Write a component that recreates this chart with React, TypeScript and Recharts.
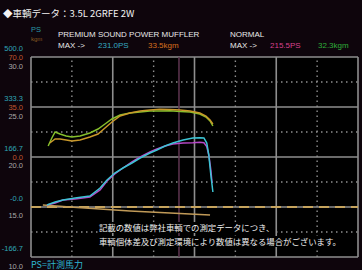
import { LineChart, Line, XAxis, YAxis, ReferenceLine } from "recharts";

// rpm grid (hidden axis), solid every 2000, dotted between
const rpmGrid = [0, 1000, 2000, 3000, 4000, 5000, 6000, 7000, 8000];
const psGrid = [-166.7, -83.3, 0, 83.3, 166.7, 250, 333.3, 416.7, 500];

const psTicks = [500, 333.3, 166.7, 0, -166.7];
const psTickLabels = ["500.0", "333.3", "166.7", "-0.0", "-166.7"];
const kgmTickLabels = ["70.0", "35.0", "0.0"];
const afrTickLabels = ["30.0", "25.0", "20.0", "15.0", "10.0"];

// PREMIUM SOUND POWER MUFFLER
const premiumPsRpm = [390, 590, 780, 1080, 1440, 1690, 1860, 2050, 2250, 2470, 2670, 2910, 3080, 3280, 3470, 3720, 3960, 4130, 4230, 4300, 4350, 4400, 4450];
const premiumPs = [6.7, 16.7, 23.3, 30, 36.7, 63.3, 90, 113.3, 130, 146.7, 163.3, 180, 190, 203.3, 213.3, 223.3, 230, 231.0, 230, 213.3, 173.3, 106.7, 50];
const premiumTqRpm = [460, 590, 710, 860, 1000, 1200, 1440, 1640, 1810, 1980, 2180, 2420, 2670, 2910, 3150, 3400, 3650, 3890, 4130, 4280, 4380, 4450];
const premiumTq = [9.8, 12.6, 12.6, 11.9, 11.2, 11.9, 14.0, 16.1, 20.3, 24.5, 28.7, 30.8, 32.2, 32.9, 33.5, 33.2, 32.9, 32.2, 30.8, 28.7, 25.9, 23.1];

// NORMAL
const normalPsRpm = [390, 590, 780, 1080, 1440, 1690, 1860, 2050, 2250, 2470, 2670, 2910, 3080, 3280, 3470, 3720, 3960, 4130, 4230, 4300, 4350, 4400, 4430];
const normalPs = [6.7, 13.3, 23.3, 26.7, 33.3, 56.7, 86.7, 110, 130, 150, 166.7, 183.3, 193.3, 203.3, 210, 213.3, 214, 215.5, 214, 201.7, 173.3, 123.3, 80];
const normalTqRpm = [420, 510, 590, 710, 860, 1000, 1200, 1440, 1640, 1810, 1980, 2180, 2420, 2670, 2910, 3150, 3400, 3650, 3890, 4130, 4280, 4380, 4450];
const normalTq = [7.7, 13.3, 17.5, 16.1, 14.7, 14.0, 14.7, 16.8, 19.6, 23.1, 26.6, 29.4, 30.8, 31.5, 32.2, 32.2, 32.3, 31.9, 31.5, 30.1, 28.0, 25.2, 21.7];

const afrRpm = [290, 950, 2420, 4380];
const afr = [15.2, 15.0, 14.6, 14.2];

const markerRpm = 3620;

const zip = (xs: number[], ys: number[]) => xs.map((rpm, i) => ({ rpm, v: ys[i] }));

const FONT = "'Liberation Sans', 'Noto Sans CJK JP', sans-serif";
const JP = "'Noto Sans CJK JP', sans-serif";

// three stacked labels per solid grid line: PS / kgm / scale
function StackTick(props: any) {
  const { y, index } = props;
  const tx = 23;
  return (
    <g fontFamily={FONT} fontSize={7.5} textAnchor="end">
      <text x={tx} y={y - 9} dy={3} fill="#2fa6b8">{psTickLabels[index]}</text>
      {kgmTickLabels[index] && (
        <text x={tx} y={y} dy={3} fill="#c0552e">{kgmTickLabels[index]}</text>
      )}
      <text x={tx} y={y + 8.5} dy={3} fill="#a8a8a8">{afrTickLabels[index]}</text>
    </g>
  );
}

const abs = (left: number, top: number, extra: any = {}) => ({
  position: "absolute" as const,
  left,
  top,
  whiteSpace: "nowrap" as const,
  lineHeight: 1,
  ...extra,
});

export default function App() {
  return (
    <div style={{ position: "absolute", left: 0, top: 0, width: 362, height: 270, background: "#0e050c", overflow: "hidden", fontFamily: FONT }}>
      <div style={{ position: "absolute", left: 31, top: 57, width: 327, height: 200, background: "#000" }} />
      <LineChart width={362} height={270} margin={{ top: 57, right: 4, bottom: 13, left: 0 }}>
        <XAxis dataKey="rpm" type="number" domain={[0, 8000]} hide allowDuplicatedCategory={false} />
        <YAxis
          yAxisId="ps"
          type="number"
          domain={[-166.7, 500]}
          ticks={psTicks}
          width={31}
          axisLine={false}
          tickLine={false}
          interval={0}
          tick={<StackTick />}
          allowDataOverflow
        />
        <YAxis yAxisId="kgm" type="number" domain={[-70, 70]} hide allowDataOverflow />
        <YAxis yAxisId="afr" type="number" domain={[10, 30]} hide allowDataOverflow />

        {psGrid.map((v, i) => (
          <ReferenceLine key={"h" + i} yAxisId="ps" y={v} stroke="#8e8e8e" strokeWidth={i % 2 === 0 ? 1.6 : 1.4} strokeDasharray={i % 2 === 0 ? undefined : "1.5 3.5"} />
        ))}
        {rpmGrid.map((v, i) => (
          <ReferenceLine key={"v" + i} yAxisId="ps" x={v} stroke="#8e8e8e" strokeWidth={i % 2 === 0 ? 1.6 : 1.4} strokeDasharray={i % 2 === 0 ? undefined : "1.5 3.5"} />
        ))}
        <ReferenceLine yAxisId="ps" x={markerRpm} stroke="#5e3550" strokeWidth={1.5} />
        <ReferenceLine yAxisId="ps" y={0} stroke="#c6a45e" strokeWidth={2} strokeDasharray="10 6" />

        <Line yAxisId="afr" data={zip(afrRpm, afr)} dataKey="v" stroke="#c09a58" strokeWidth={1.5} dot={false} isAnimationActive={false} />
        <Line yAxisId="kgm" data={zip(normalTqRpm, normalTq)} dataKey="v" stroke="#86bf2c" strokeWidth={1.5} dot={false} isAnimationActive={false} />
        <Line yAxisId="kgm" data={zip(premiumTqRpm, premiumTq)} dataKey="v" stroke="#c9982a" strokeWidth={1.5} dot={false} isAnimationActive={false} />
        <Line yAxisId="ps" data={zip(normalPsRpm, normalPs)} dataKey="v" stroke="#b748c8" strokeWidth={1.5} dot={false} isAnimationActive={false} />
        <Line yAxisId="ps" data={zip(premiumPsRpm, premiumPs)} dataKey="v" stroke="#3cc4d4" strokeWidth={1.5} dot={false} isAnimationActive={false} />
      </LineChart>

      <div style={abs(3, 9, { color: "#f2f2f2", fontSize: 9.5, fontFamily: JP })}>◆車輌データ：3.5L 2GRFE 2W</div>
      <div style={abs(31, 26, { color: "#2a97a6", fontSize: 7.5 })}>PS</div>
      <div style={abs(31, 36, { color: "#8a5a22", fontSize: 6 })}>kgm</div>

      <div style={abs(58, 31, { color: "#e8e8e8", fontSize: 8 })}>PREMIUM SOUND POWER MUFFLER</div>
      <div style={abs(58, 42, { color: "#e8e8e8", fontSize: 8 })}>MAX -&gt;</div>
      <div style={abs(98, 42, { color: "#35a9c2", fontSize: 8 })}>231.0PS</div>
      <div style={abs(148, 42, { color: "#d8701e", fontSize: 8 })}>33.5kgm</div>

      <div style={abs(230, 31, { color: "#e8e8e8", fontSize: 8 })}>NORMAL</div>
      <div style={abs(230, 42, { color: "#e8e8e8", fontSize: 8 })}>MAX -&gt;</div>
      <div style={abs(270, 42, { color: "#d8408c", fontSize: 8 })}>215.5PS</div>
      <div style={abs(318, 42, { color: "#2fae3a", fontSize: 8 })}>32.3kgm</div>

      <div style={abs(99, 222, { color: "#f0f0f0", fontSize: 8.4, fontFamily: JP, background: "#000", lineHeight: "11px" })}>記載の数値は弊社車輌での測定データにつき、</div>
      <div style={abs(99, 236, { color: "#f0f0f0", fontSize: 8.4, fontFamily: JP, background: "#000", lineHeight: "11px" })}>車輌個体差及び測定環境により数値は異なる場合がございます。</div>

      <div style={abs(31, 260, { color: "#2fb6d2", fontSize: 9, fontFamily: JP })}>PS=計測馬力</div>
    </div>
  );
}
